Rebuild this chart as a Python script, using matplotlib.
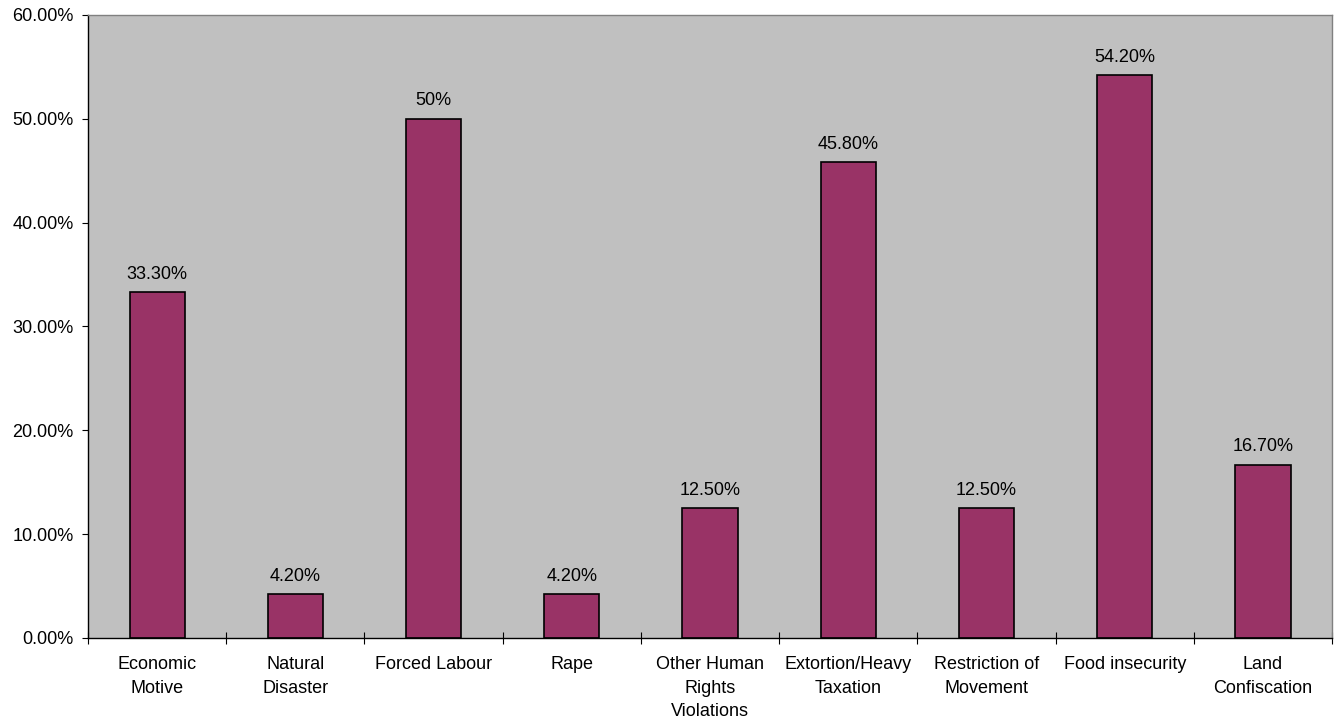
import matplotlib.pyplot as plt
from matplotlib.ticker import FixedLocator, FuncFormatter

plt.rcParams['font.family'] = ['Liberation Sans', 'DejaVu Sans']

categories = ["Economic\nMotive", "Natural\nDisaster", "Forced Labour", "Rape",
              "Other Human\nRights\nViolations", "Extortion/Heavy\nTaxation",
              "Restriction of\nMovement", "Food insecurity", "Land\nConfiscation"]
values = [33.3, 4.2, 50.0, 4.2, 12.5, 45.8, 12.5, 54.2, 16.7]
value_labels = ["33.30%", "4.20%", "50%", "4.20%", "12.50%", "45.80%",
                "12.50%", "54.20%", "16.70%"]
yticks = [0, 10, 20, 30, 40, 50, 60]

fig = plt.figure(figsize=(13.42, 7.23), dpi=100)
ax = fig.add_axes([0.0656, 0.1176, 0.9270, 0.8617])
ax.set_facecolor('#C0C0C0')

x = list(range(len(categories)))
bars = ax.bar(x, values, width=0.4, color='#993366', edgecolor='black', linewidth=1.2, zorder=2)

for xi, v, lab in zip(x, values, value_labels):
    ax.text(xi, v + 0.9, lab, ha='center', va='bottom', fontsize=13)

ax.set_xlim(-0.5, len(categories) - 0.5)
ax.set_ylim(0, 60)
ax.set_yticks(yticks)
ax.yaxis.set_major_formatter(FuncFormatter(lambda v, p: f"{v:.2f}%"))

ax.set_xticks(x)
ax.set_xticklabels(categories, fontsize=13, va='top', linespacing=1.5)
ax.xaxis.set_minor_locator(FixedLocator([i - 0.5 for i in range(len(categories) + 1)]))
ax.tick_params(axis='x', which='major', length=0, pad=13)
ax.tick_params(axis='x', which='minor', length=8, direction='inout', width=0.8)
ax.tick_params(axis='y', length=4.5, width=0.8, labelsize=13, pad=6)

ax.spines['left'].set_color('black')
ax.spines['bottom'].set_color('black')
ax.spines['top'].set_color('#808080')
ax.spines['right'].set_color('#808080')
for s in ax.spines.values():
    s.set_linewidth(1.0)

fig.savefig('out.png', dpi=100)
